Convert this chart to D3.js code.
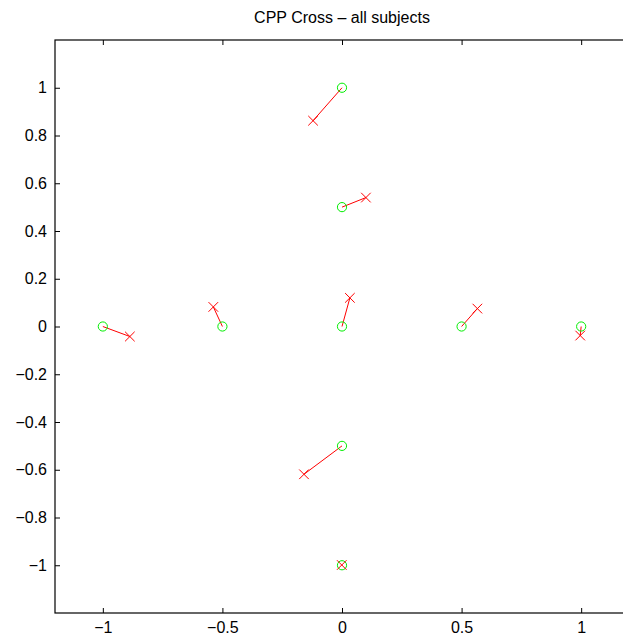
<!DOCTYPE html>
<html>
<head>
<meta charset="utf-8">
<script src="https://cdn.jsdelivr.net/npm/d3@7"></script>
<style>
  html, body { margin: 0; padding: 0; background: #fff; }
  svg { display: block; font-family: "Liberation Sans", Arial, sans-serif; }
</style>
</head>
<body>
<svg id="chart" width="623" height="643"></svg>
<script>
// Target positions (green circles)
const targetX = [0, 0, -1, -0.5, 0, 0.5, 1, 0, 0];
const targetY = [1, 0.5, 0, 0, 0, 0, 0, -0.5, -1];
// Mean responses across subjects (red crosses)
const responseX = [-0.121, 0.100, -0.887, -0.538, 0.033, 0.566, 0.996, -0.159, -0.001];
const responseY = [0.862, 0.540, -0.042, 0.082, 0.120, 0.075, -0.038, -0.619, -0.999];

const xTicks = [-1, -0.5, 0, 0.5, 1];
const yTicks = [-1, -0.8, -0.6, -0.4, -0.2, 0, 0.2, 0.4, 0.6, 0.8, 1];
const titleText = "CPP Cross \u2013 all subjects";

const svg = d3.select("#chart");
const plotLeft = 55, plotRight = 629, plotTop = 40, plotBottom = 613;
const fontSize = 16;

const x = d3.scaleLinear().domain([-1.2, 1.2]).range([plotLeft, plotRight]);
const y = d3.scaleLinear().domain([-1.2, 1.2]).range([plotBottom, plotTop]);

const fmt = d => (d < 0 ? "\u2212" : "") + String(Math.abs(d));

// Axes with inward ticks on all four sides
const tickLen = 5;
const gBottom = svg.append("g").attr("transform", `translate(0,${plotBottom})`)
  .call(d3.axisBottom(x).tickValues(xTicks).tickSizeInner(-tickLen).tickSizeOuter(0).tickPadding(9).tickFormat(fmt));
const gTop = svg.append("g").attr("transform", `translate(0,${plotTop})`)
  .call(d3.axisTop(x).tickValues(xTicks).tickSizeInner(-tickLen).tickSizeOuter(0).tickFormat(""));
const gLeft = svg.append("g").attr("transform", `translate(${plotLeft},0)`)
  .call(d3.axisLeft(y).tickValues(yTicks).tickSizeInner(-tickLen).tickSizeOuter(0).tickPadding(8).tickFormat(fmt));
const gRight = svg.append("g").attr("transform", `translate(${plotRight},0)`)
  .call(d3.axisRight(y).tickValues(yTicks).tickSizeInner(-tickLen).tickSizeOuter(0).tickFormat(""));

[gBottom, gTop, gLeft, gRight].forEach(g => {
  g.select(".domain").remove();
  g.selectAll(".tick line").attr("stroke", "#000").attr("stroke-width", 1);
  g.selectAll(".tick text").attr("fill", "#000").attr("font-size", fontSize)
    .attr("font-family", "Liberation Sans, Arial, sans-serif");
});
gBottom.selectAll(".tick text").attr("dy", "0.71em");

// Axes box
svg.append("rect")
  .attr("x", plotLeft).attr("y", plotTop)
  .attr("width", plotRight - plotLeft).attr("height", plotBottom - plotTop)
  .attr("fill", "none").attr("stroke", "#000").attr("stroke-width", 1.2);

const pts = targetX.map((tx, i) => ({ tx, ty: targetY[i], rx: responseX[i], ry: responseY[i] }));

// Displacement lines from target to response
svg.append("g").selectAll("line").data(pts).join("line")
  .attr("x1", d => x(d.tx)).attr("y1", d => y(d.ty))
  .attr("x2", d => x(d.rx)).attr("y2", d => y(d.ry))
  .attr("stroke", "#ff0000").attr("stroke-width", 1);

// Target circles
svg.append("g").selectAll("circle").data(pts).join("circle")
  .attr("cx", d => x(d.tx)).attr("cy", d => y(d.ty)).attr("r", 4.6)
  .attr("fill", "none").attr("stroke", "#00ee00").attr("stroke-width", 1);

// Response crosses
const s = 4.8;
svg.append("g").selectAll("path").data(pts).join("path")
  .attr("d", d => {
    const cx = x(d.rx), cy = y(d.ry);
    return `M${cx - s},${cy - s}L${cx + s},${cy + s}M${cx - s},${cy + s}L${cx + s},${cy - s}`;
  })
  .attr("fill", "none").attr("stroke", "#ff0000").attr("stroke-width", 1);

// Title
svg.append("text")
  .attr("x", (plotLeft + plotRight) / 2).attr("y", 23)
  .attr("text-anchor", "middle").attr("font-size", fontSize).attr("fill", "#000")
  .text(titleText);
</script>
</body>
</html>
